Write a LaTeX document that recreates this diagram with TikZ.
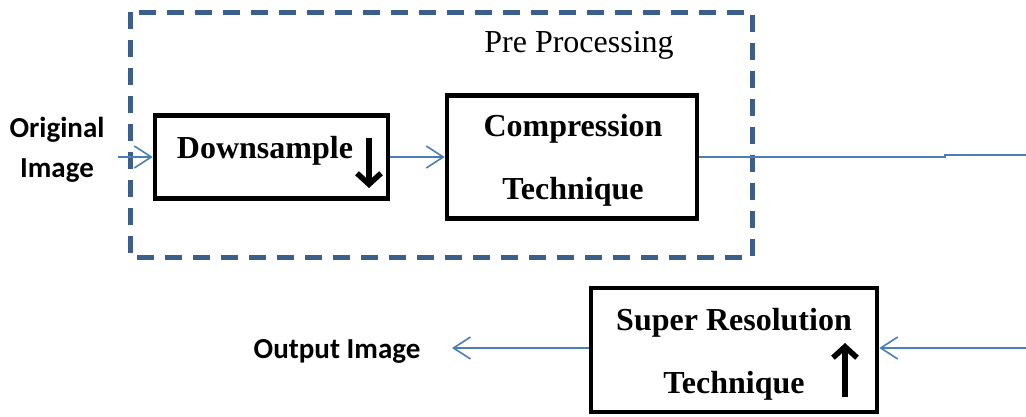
\documentclass[tikz,border=0pt]{standalone}
\usepackage{fontspec}
\setmainfont{Liberation Serif}
\newfontfamily\labelfont{Carlito}
\usetikzlibrary{arrows.meta}
\definecolor{flowblue}{HTML}{4A7EBB}
\definecolor{frameblue}{HTML}{3B5E8C}

\tikzset{
  stagebox/.style={draw=black, line width=4.5pt, inner sep=0pt, fill=none},
  stagetext/.style={font=\fontsize{32}{36}\selectfont\bfseries, inner sep=0pt},
  sidetext/.style={font=\labelfont\fontsize{29}{40}\selectfont\bfseries, inner sep=0pt, align=center},
  flowline/.style={draw=flowblue, line width=1.6pt},
  flowarrow/.style={flowline, -{Straight Barb[length=17pt,width=22pt,line width=1.6pt]}},
  rateArrow/.style={draw=black, line width=5.5pt, -{Straight Barb[length=11pt,width=24pt,line width=5.5pt]}},
  groupframe/.style={draw=frameblue, line width=5pt, dash pattern=on 17pt off 11pt}
}

\begin{document}
\begin{tikzpicture}[x=1pt,y=-1pt]
\useasboundingbox (0,0) rectangle (1026,416);

% pre-processing group
\draw[groupframe] (130,12) rectangle (752,257);
\node[font=\fontsize{32}{36}\selectfont, inner sep=0pt] (pretitle) at (579,45) {Pre Processing};

% processing stages
\node[stagebox, minimum width=233pt, minimum height=83pt] (down) at (271.5,157) {};
\node[stagetext] (downtxt) at (265,151) {Downsample};
\coordinate (dtop) at (369,138);
\coordinate (dbot) at (369,188);
\draw[rateArrow] (dtop) -- (dbot);

\node[stagebox, minimum width=250pt, minimum height=123pt] (comp) at (572,157) {};
\node[stagetext] (comptxt1) at (573,129) {Compression};
\node[stagetext] (comptxt2) at (573,192) {Technique};

\node[stagebox, minimum width=286pt, minimum height=124pt] (sr) at (734,350) {};
\node[stagetext] (srtxt1) at (734,323) {Super Resolution};
\node[stagetext] (srtxt2) at (734,386) {Technique};
\coordinate (ubot) at (845,397);
\coordinate (utop) at (845,343);
\draw[rateArrow] (ubot) -- (utop);

% input and output labels
\node[sidetext] (orig) at (57,150) {Original\\Image};
\node[font=\labelfont\fontsize{29}{32}\selectfont\bfseries, inner sep=0pt] (outimg) at (337,351) {Output Image};

% connectors
\coordinate (inpt) at (118,157);
\draw[flowarrow] (inpt) -- (down.west);
\draw[flowarrow] (down.east) -- (comp.west);

\coordinate (jog1) at (945,157);
\coordinate (jog2) at (945,155);
\coordinate (rightend) at (1026,155);
\draw[flowline] (comp.east) -- (jog1) -- (jog2) -- (rightend);

\coordinate (srin) at (1026,348);
\draw[flowarrow] (srin) -- (srin -| sr.east);
\coordinate (outtip) at (452,348);
\draw[flowarrow] (outtip -| sr.west) -- (outtip);
\end{tikzpicture}
\end{document}
